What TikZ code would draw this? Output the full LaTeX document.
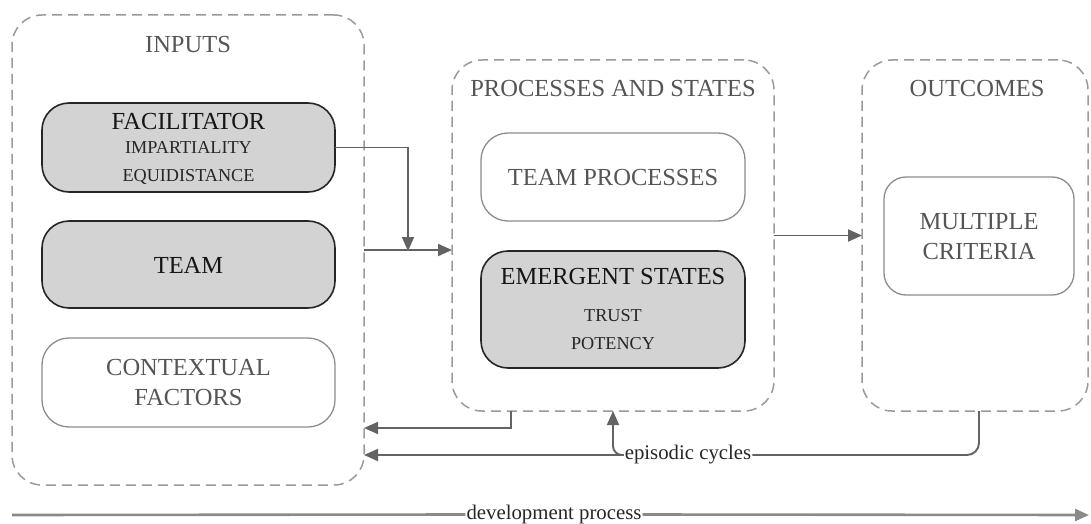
\documentclass[tikz,border=0pt]{standalone}
\usepackage{fontspec}
\setmainfont{Liberation Serif}
\newfontfamily\timesface{Liberation Serif}
\usetikzlibrary{arrows.meta}
\definecolor{grouplinecol}{HTML}{9A9A9A}
\definecolor{conncol}{HTML}{636363}
\definecolor{devcol}{HTML}{8A8A8A}
\definecolor{fillcol}{HTML}{D3D3D3}
\definecolor{softtext}{HTML}{555555}
\definecolor{softline}{HTML}{8C8C8C}
\definecolor{darktext}{HTML}{151515}
\newcommand{\bigfont}{\timesface\fontsize{24.5}{29}\selectfont}
\newcommand{\smallfont}{\timesface\fontsize{18.2}{22}\selectfont}
\newcommand{\labfont}{\timesface\fontsize{20.8}{25}\selectfont}
\tikzset{
  groupbox/.style={draw=grouplinecol, line width=1.5pt, dash pattern=on 10pt off 6pt,
    rounded corners=30pt, inner sep=0pt, outer sep=0pt},
  darkbox/.style={draw=black!85, fill=fillcol, line width=1.6pt,
    rounded corners=27pt, inner sep=0pt, outer sep=0pt},
  lightbox/.style={draw=softline, line width=1.3pt,
    rounded corners=27pt, inner sep=0pt, outer sep=0pt},
  title/.style={anchor=base, text=softtext, font=\bigfont, inner sep=0pt},
  darktitle/.style={anchor=base, text=darktext, font=\bigfont, inner sep=0pt},
  subline/.style={anchor=base, text=black!85, font=\smallfont, inner sep=0pt},
  conn/.style={draw=conncol, line width=1.9pt, -{Triangle[length=14pt,width=12pt]}},
  plainconn/.style={draw=conncol, line width=1.9pt},
  devline/.style={draw=devcol, line width=2.6pt},
}
\begin{document}
\begin{tikzpicture}[x=1pt, y=-1pt]
\useasboundingbox (0,0) rectangle (1091,524);

% three dashed stage groups
\node[groupbox, minimum width=352pt, minimum height=470pt] (inp) at (188,250) {};
\node[groupbox, minimum width=322pt, minimum height=351pt] (proc) at (613,235.5) {};
\node[groupbox, minimum width=226pt, minimum height=351pt] (outc) at (975,235.5) {};

\node[title] (inptitle) at (188,53) {INPUTS};
\node[title] (proctitle) at (613,96.5) {PROCESSES AND STATES};
\node[title] (outctitle) at (977,96.5) {OUTCOMES};

% input boxes
\node[darkbox, minimum width=293pt, minimum height=89pt] (fac) at (188.5,147.5) {};
\node[darktitle] (factxt) at (188.5,129.5) {FACILITATOR};
\node[subline] (imp) at (188.5,153.5) {IMPARTIALITY};
\node[subline] (equ) at (188.5,181.5) {EQUIDISTANCE};

\node[darkbox, minimum width=293pt, minimum height=87pt] (team) at (188.5,264.5) {};
\node[darktitle] (teamtxt) at (188.5,273) {TEAM};

\node[lightbox, minimum width=293pt, minimum height=89pt] (ctx) at (188.5,382.5) {};
\node[title] (ctx1) at (188.5,375) {CONTEXTUAL};
\node[title] (ctx2) at (188.5,405) {FACTORS};

% processes and states boxes
\node[lightbox, minimum width=264pt, minimum height=88pt] (tp) at (613,177) {};
\node[title] (tptxt) at (613,185) {TEAM PROCESSES};

\node[darkbox, minimum width=264pt, minimum height=117pt] (es) at (613,309.5) {};
\node[darktitle] (estxt) at (613,284) {EMERGENT STATES};
\node[subline] (trust) at (613,321.5) {TRUST};
\node[subline] (pot) at (613,349) {POTENCY};

% outcome box
\node[lightbox, rounded corners=22pt, minimum width=190pt, minimum height=118pt] (mc) at (979,236) {};
\node[title] (mc1) at (979,229) {MULTIPLE};
\node[title] (mc2) at (979,259) {CRITERIA};

% forward flow
\coordinate (join) at (408,250);
\draw[conn] (fac.east) -| ([yshift=-1pt]join);
\draw[conn] (inp.east |- join) -- (proc.west |- join);
\draw[conn] (proc.east) -- (outc.west);

% feedback loops
\coordinate (fb) at (511,428);
\draw[conn] (proc.south -| fb) |- (inp.east |- fb);

\node[text=black!85, font=\labfont, inner sep=1pt] (ep) at (688,455) {episodic cycles};
\coordinate (oc) at (979,0);
\coordinate (up) at (613,0);
\draw[plainconn, rounded corners=12pt] (outc.south -| oc) |- (ep.east);
\draw[conn] (ep.west) -- (inp.east |- ep.west);
\draw[conn, rounded corners=9pt] (ep.west) -| (proc.south -| up);

% development timeline
\node[text=black!85, font=\labfont, inner sep=1pt] (dev) at (554,514.5) {development process};
\coordinate (devstart) at (12,515);
\coordinate (devend) at (1089,515);
\draw[devline] (devstart) -- (dev.west);
\draw[devline, -{Triangle[length=14pt,width=12pt]}] (dev.east) -- (devend);
\end{tikzpicture}
\end{document}
